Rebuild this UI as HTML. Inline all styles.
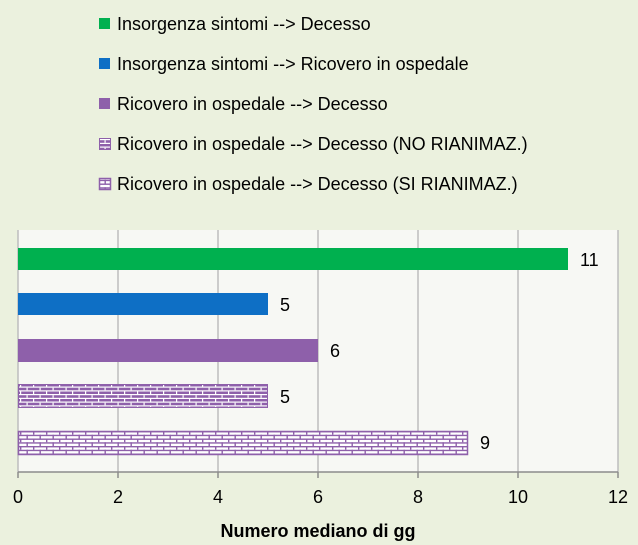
<!DOCTYPE html>
<html><head><style>
body{margin:0;background:#ebf1de;}
svg{display:block;font-family:"Liberation Sans",sans-serif;}
</style></head><body>
<svg width="638" height="545" viewBox="0 0 638 545">
<defs>
<pattern id="b1" width="13" height="7.5" patternUnits="userSpaceOnUse" x="18" y="384">
<rect width="13" height="7.5" fill="#8e60aa"/>
<rect x="0" y="2.5" width="13" height="1.2" fill="#fff"/>
<rect x="0" y="6.3" width="13" height="1.2" fill="#fff"/>
<rect x="2" y="0" width="1.2" height="2.5" fill="#fff"/>
<rect x="8.5" y="3.7" width="1.2" height="2.6" fill="#fff"/>
</pattern>
<pattern id="b2" width="13" height="7.5" patternUnits="userSpaceOnUse" x="18" y="431">
<rect width="13" height="7.5" fill="#fff"/>
<rect x="0" y="0" width="13" height="1.4" fill="#8e60aa"/>
<rect x="0" y="3.75" width="13" height="1.4" fill="#8e60aa"/>
<rect x="2" y="0" width="1.4" height="3.75" fill="#8e60aa"/>
<rect x="8.5" y="3.75" width="1.4" height="3.75" fill="#8e60aa"/>
</pattern>
</defs>
<rect width="638" height="545" fill="#ebf1de"/>
<rect x="18" y="230" width="600" height="242" fill="#f7f8f4"/>
<g stroke="#bdbdbd" stroke-width="1.5">
<line x1="118" y1="230" x2="118" y2="472"/><line x1="218" y1="230" x2="218" y2="472"/>
<line x1="318" y1="230" x2="318" y2="472"/><line x1="418" y1="230" x2="418" y2="472"/>
<line x1="518" y1="230" x2="518" y2="472"/><line x1="618" y1="230" x2="618" y2="472"/>
<line x1="18" y1="230" x2="18" y2="472"/>
</g>
<g stroke="#8c8c8c" stroke-width="1.5">
<line x1="18" y1="472" x2="618" y2="472"/>
<line x1="18" y1="472" x2="18" y2="478"/><line x1="118" y1="472" x2="118" y2="478"/>
<line x1="218" y1="472" x2="218" y2="478"/><line x1="318" y1="472" x2="318" y2="478"/>
<line x1="418" y1="472" x2="418" y2="478"/><line x1="518" y1="472" x2="518" y2="478"/>
<line x1="618" y1="472" x2="618" y2="478"/>
</g>
<rect x="18" y="248" width="550" height="22" fill="#00b04f"/>
<rect x="18" y="293" width="250" height="22" fill="#0e6fc5"/>
<rect x="18" y="339" width="300" height="23" fill="#8e60aa"/>
<rect x="18.5" y="384.5" width="249" height="23" fill="url(#b1)" stroke="#8e60aa"/>
<rect x="18.5" y="431.5" width="449" height="23" fill="url(#b2)" stroke="#8e60aa" stroke-width="1.5"/>
<g font-size="18" fill="#000">
<text x="580" y="266">11</text><text x="280" y="311">5</text><text x="330" y="357">6</text>
<text x="280" y="403">5</text><text x="480" y="449">9</text>
</g>
<g font-size="18" text-anchor="middle">
<text x="18" y="503">0</text><text x="118" y="503">2</text><text x="218" y="503">4</text>
<text x="318" y="503">6</text><text x="418" y="503">8</text><text x="518" y="503">10</text><text x="618" y="503">12</text>
<text x="318" y="537" font-weight="bold" font-size="18">Numero mediano di gg</text>
</g>
<g font-size="18">
<rect x="99" y="18" width="11" height="11" fill="#00b04f"/><text x="117" y="30">Insorgenza sintomi --&gt; Decesso</text>
<rect x="99" y="58" width="11" height="11" fill="#0e6fc5"/><text x="117" y="70">Insorgenza sintomi --&gt; Ricovero in ospedale</text>
<rect x="99" y="98" width="11" height="11" fill="#8e60aa"/><text x="117" y="110">Ricovero in ospedale --&gt; Decesso</text>
<rect x="99.5" y="138.5" width="11" height="11" fill="url(#b1)" stroke="#8e60aa"/><text x="117" y="150">Ricovero in ospedale --&gt; Decesso (NO RIANIMAZ.)</text>
<rect x="99.5" y="178.5" width="11" height="11" fill="url(#b2)" stroke="#8e60aa" stroke-width="1.5"/><text x="117" y="190">Ricovero in ospedale --&gt; Decesso (SI RIANIMAZ.)</text>
</g>
</svg>
</body></html>
